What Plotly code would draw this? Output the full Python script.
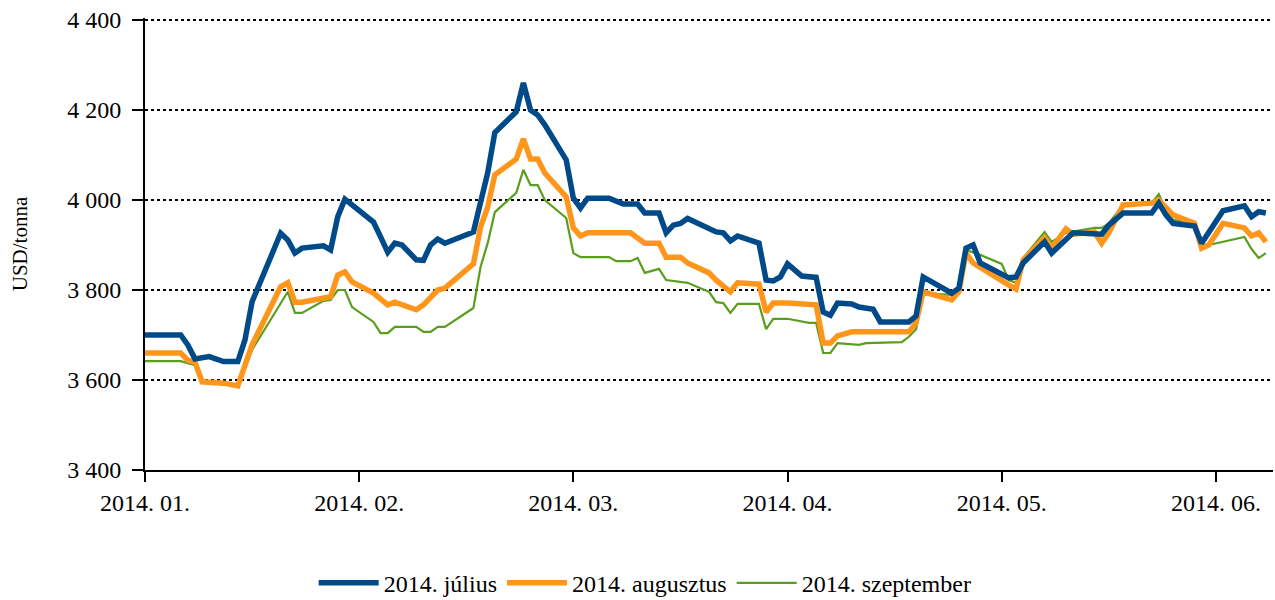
import plotly.graph_objects as go

# Tőzsdei napok sorszáma (nap) és árfolyam (USD/tonna) a három lejáratra
jul_nap = [0, 5, 6, 7, 9, 11, 13, 14, 15, 19, 20, 21, 22, 25, 26, 27, 28, 29, 32, 33, 34, 35, 36,
           38, 39, 40, 41, 42, 46, 48, 49, 52, 53, 54, 55, 56, 59, 60, 61, 62, 65, 67, 69, 70, 72,
           73, 74, 75, 76, 80, 81, 82, 83, 86, 87, 88, 89, 90, 92, 94, 95, 96, 97, 99, 100, 102,
           103, 107, 108, 109, 113, 114, 115, 116, 117, 121, 122, 123, 126, 127, 130, 134, 135,
           137, 141, 142, 143, 144, 147, 148, 149, 151, 154, 155, 156, 157]
jul_ar = [3700, 3700, 3678, 3647, 3652, 3641, 3641, 3689, 3774, 3926, 3911, 3882, 3893, 3898,
          3889, 3963, 4002, 3989, 3951, 3918, 3884, 3904, 3900, 3867, 3866, 3900, 3913, 3904,
          3929, 4060, 4150, 4196, 4260, 4200, 4189, 4167, 4089, 4004, 3982, 4004, 4004, 3991,
          3991, 3971, 3971, 3927, 3944, 3948, 3959, 3929, 3927, 3909, 3920, 3904, 3822, 3820,
          3829, 3858, 3831, 3828, 3751, 3744, 3771, 3769, 3762, 3757, 3729, 3729, 3742, 3829,
          3793, 3804, 3893, 3900, 3860, 3827, 3829, 3860, 3907, 3882, 3927, 3924, 3944, 3971,
          3971, 3993, 3967, 3948, 3942, 3904, 3927, 3976, 3987, 3963, 3974, 3971]

aug_nap = [0, 5, 6, 7, 8, 11, 13, 15, 19, 20, 21, 22, 26, 27, 28, 29, 32, 34, 35, 38, 39, 41,
           42, 46, 47, 48, 49, 52, 53, 54, 55, 56, 59, 60, 61, 62, 68, 70, 72, 73, 75, 76, 79,
           80, 82, 83, 86, 87, 88, 90, 94, 95, 96, 97, 99, 102, 106, 107, 108, 109, 113, 114,
           115, 116, 121, 122, 123, 126, 127, 129, 130, 133, 134, 135, 137, 141, 142, 144, 147,
           148, 149, 151, 154, 155, 156, 157]
aug_ar = [3660, 3660, 3644, 3640, 3596, 3593, 3587, 3678, 3807, 3816, 3773, 3773, 3785, 3833,
          3840, 3818, 3793, 3767, 3773, 3756, 3767, 3800, 3804, 3858, 3940, 3984, 4056, 4091,
          4136, 4091, 4091, 4060, 4007, 3938, 3920, 3927, 3927, 3904, 3904, 3873, 3873, 3860,
          3838, 3822, 3796, 3816, 3813, 3751, 3771, 3771, 3767, 3682, 3682, 3698, 3707, 3707,
          3709, 3707, 3727, 3796, 3778, 3796, 3882, 3860, 3811, 3802, 3867, 3916, 3893, 3936,
          3924, 3929, 3904, 3927, 3989, 3993, 4000, 3967, 3948, 3893, 3900, 3948, 3938, 3920,
          3927, 3907]

szep_nap = [0, 5, 7, 8, 11, 13, 15, 20, 21, 22, 25, 26, 27, 28, 29, 32, 33, 34, 35, 38, 39,
            40, 41, 42, 46, 47, 48, 49, 52, 53, 54, 55, 56, 59, 60, 61, 65, 66, 68, 69, 70, 72,
            73, 76, 79, 80, 81, 82, 83, 86, 87, 88, 90, 93, 94, 95, 96, 97, 100, 101, 106, 107,
            108, 109, 113, 114, 115, 117, 120, 121, 122, 123, 126, 127, 129, 131, 133, 134, 135,
            137, 141, 142, 143, 144, 147, 148, 149, 154, 155, 156, 157]
szep_ar = [3642, 3642, 3633, 3596, 3593, 3584, 3667, 3796, 3749, 3749, 3776, 3778, 3800, 3800,
           3762, 3729, 3704, 3704, 3718, 3718, 3707, 3707, 3718, 3718, 3760, 3851, 3904, 3973,
           4016, 4067, 4033, 4033, 4000, 3960, 3882, 3873, 3873, 3864, 3864, 3871, 3838, 3847,
           3822, 3816, 3796, 3773, 3771, 3749, 3769, 3769, 3713, 3736, 3736, 3727, 3727, 3660,
           3660, 3682, 3678, 3682, 3684, 3696, 3713, 3793, 3789, 3798, 3889, 3878, 3858, 3822,
           3816, 3871, 3929, 3907, 3927, 3933, 3938, 3938, 3948, 3989, 3993, 4013, 3978, 3956,
           3948, 3900, 3900, 3918, 3891, 3871, 3882]

# Hónapcímkék a vízszintes tengelyen (30 naponként)
honap_nap = [0, 30, 60, 90, 120, 150]
honap_cimke = ["2014. 01.", "2014. 02.", "2014. 03.", "2014. 04.", "2014. 05.", "2014. 06."]

# Függőleges tengely osztásai
ar_oszt = [3400, 3600, 3800, 4000, 4200, 4400]
ar_cimke = ["3 400", "3 600", "3 800", "4 000", "4 200", "4 400"]

FONT = "Liberation Serif"

fig = go.Figure()
# rajzolási sorrend: a zöld alul, a kék felül
fig.add_trace(go.Scatter(x=szep_nap, y=szep_ar, mode="lines", name="2014. szeptember",
                         line=dict(color="#5A9E1E", width=2.2), legendrank=3))
fig.add_trace(go.Scatter(x=aug_nap, y=aug_ar, mode="lines", name="2014. augusztus",
                         line=dict(color="#FF961C", width=5.5), legendrank=2))
fig.add_trace(go.Scatter(x=jul_nap, y=jul_ar, mode="lines", name="2014. július",
                         line=dict(color="#004A8A", width=5.5), legendrank=1))

fig.update_layout(
    width=1275, height=600,
    margin=dict(l=145, r=2, t=18, b=130, autoexpand=False),
    paper_bgcolor="white", plot_bgcolor="white",
    font=dict(family=FONT, size=24, color="black"),
    showlegend=True,
    legend=dict(orientation="h", xref="container", yref="container",
                x=0.506, xanchor="center", y=0.028, yanchor="middle",
                font=dict(family=FONT, size=24), traceorder="normal", itemwidth=60,
                bgcolor="rgba(0,0,0,0)"),
)

fig.update_xaxes(
    range=[0, 158], tickmode="array", tickvals=honap_nap, ticktext=honap_cimke,
    showgrid=False, zeroline=False, automargin=False,
    showline=True, linecolor="black", linewidth=2,
    ticks="outside", ticklen=10, tickwidth=2, tickcolor="black",
    tickfont=dict(family=FONT, size=24),
)

fig.update_yaxes(
    range=[3400, 4404.4], tickmode="array", tickvals=ar_oszt, ticktext=ar_cimke,
    showgrid=True, gridcolor="black", gridwidth=2, griddash="3px,3px",
    zeroline=False, automargin=False,
    showline=True, linecolor="black", linewidth=2,
    ticks="outside", ticklen=11, tickwidth=2, tickcolor="black",
    tickfont=dict(family=FONT, size=24), ticklabelstandoff=6,
    title=dict(text="USD/tonna", font=dict(family=FONT, size=21), standoff=34),
)

fig.write_html("out.html")
